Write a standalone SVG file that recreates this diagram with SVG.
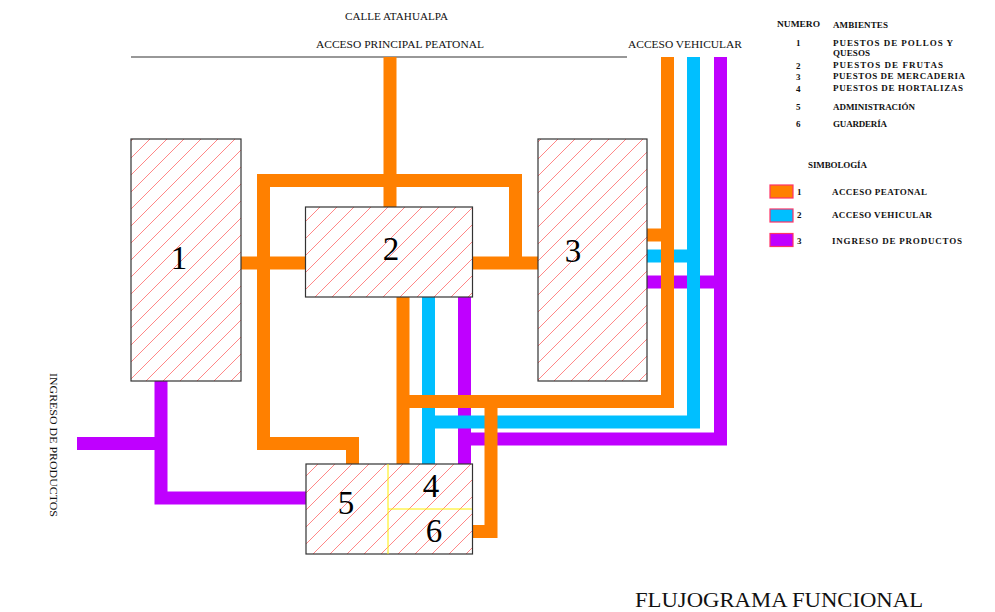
<svg xmlns="http://www.w3.org/2000/svg" width="995" height="612" viewBox="0 0 995 612">
<defs>
<pattern id="hatch" patternUnits="userSpaceOnUse" width="17" height="17">
<path d="M0,17 L17,0 M-4,4 L4,-4 M13,21 L21,13" stroke="#ff4d4d" stroke-width="0.8" stroke-opacity="0.85"/>
</pattern>
<style>
.box{fill:url(#hatch);stroke:#333;stroke-width:1.2}
.num{font-family:"Liberation Serif",serif;font-size:33px;fill:#000;text-anchor:middle}
.c{fill:none;stroke-width:13;stroke-linejoin:miter;stroke-linecap:butt}
.o{stroke:#ff8000}
.b{stroke:#00bfff}
.p{stroke:#bf00ff}
.t{font-family:"Liberation Serif",serif;font-size:10.5px;fill:#111}
.lg{font-family:"Liberation Serif",serif;font-size:9px;font-weight:bold;fill:#111}
.sw{stroke:#ff3366;stroke-width:1.2}
</style>
</defs>
<rect width="995" height="612" fill="#fff"/>
<line x1="131" y1="57" x2="627" y2="57" stroke="#333" stroke-width="1.2"/>
<text class="t" x="345" y="20" textLength="103" lengthAdjust="spacingAndGlyphs">CALLE ATAHUALPA</text>
<text class="t" x="316" y="48" textLength="168" lengthAdjust="spacingAndGlyphs">ACCESO PRINCIPAL PEATONAL</text>
<text class="t" x="628" y="48" textLength="114" lengthAdjust="spacingAndGlyphs">ACCESO VEHICULAR</text>
<text class="t" x="0" y="0" transform="translate(50,373) rotate(90)" textLength="144" lengthAdjust="spacingAndGlyphs">INGRESO DE PRODUCTOS</text>
<g id="connectors">
<path class="c o" d="M647,235 H667"/>
<path class="c b" d="M647,256 H693"/>
<path class="c p" d="M647,282 H720"/>
<path class="c o" d="M390,57 V207"/>
<path class="c o" d="M352.5,464 V443.5 H263.5 V180.5 H515.5 V263"/>
<path class="c o" d="M241,263 H305"/>
<path class="c o" d="M472,263 H538"/>
<path class="c p" d="M161,381 V498 H306"/>
<path class="c p" d="M77,443.5 H161"/>
<path class="c o" d="M403,297 V464"/>
<path class="c b" d="M428.5,297 V464"/>
<path class="c p" d="M464.5,297 V464"/>
<path class="c p" d="M720.5,57 V439 H458"/>
<path class="c b" d="M693.5,57 V422 H422"/>
<path class="c o" d="M667.5,57 V401.5 H397"/>
<path class="c o" d="M491,401.5 V531.5 H472"/>
</g>
<g id="node1">
<rect class="box" x="131" y="139" width="110" height="242"/>
<text class="num" x="179" y="269">1</text>
</g>
<g id="node2">
<rect class="box" x="305.5" y="207" width="167" height="90"/>
<text class="num" x="391" y="260">2</text>
</g>
<g id="node3">
<rect class="box" x="538" y="139" width="109" height="242"/>
<text class="num" x="573" y="262">3</text>
</g>
<g id="node456">
<rect class="box" x="306" y="464" width="166.5" height="90"/>
<line x1="388" y1="464" x2="388" y2="554" stroke="#ffee00" stroke-width="1"/>
<line x1="388" y1="509" x2="472" y2="509" stroke="#ffee00" stroke-width="1"/>
<text class="num" x="346" y="514">5</text>
<text class="num" x="431" y="497">4</text>
<text class="num" x="434" y="542">6</text>
</g>
<g id="legend">
<text class="lg" x="777" y="27" textLength="43" lengthAdjust="spacingAndGlyphs">NUMERO</text>
<text class="lg" x="833" y="28" textLength="55" lengthAdjust="spacing">AMBIENTES</text>
<text class="lg" x="796" y="46">1</text>
<text class="lg" x="833" y="46" textLength="120" lengthAdjust="spacing">PUESTOS DE POLLOS Y</text>
<text class="lg" x="833" y="56" textLength="37" lengthAdjust="spacing">QUESOS</text>
<text class="lg" x="796" y="68.5">2</text>
<text class="lg" x="833" y="67.5" textLength="110" lengthAdjust="spacing">PUESTOS DE FRUTAS</text>
<text class="lg" x="796" y="80">3</text>
<text class="lg" x="833" y="79" textLength="132" lengthAdjust="spacing">PUESTOS DE MERCADERIA</text>
<text class="lg" x="796" y="92">4</text>
<text class="lg" x="833" y="91" textLength="130" lengthAdjust="spacing">PUESTOS DE HORTALIZAS</text>
<text class="lg" x="796" y="110">5</text>
<text class="lg" x="833" y="110" textLength="82" lengthAdjust="spacing">ADMINISTRACIÓN</text>
<text class="lg" x="796" y="127">6</text>
<text class="lg" x="833" y="127" textLength="54" lengthAdjust="spacing">GUARDERÍA</text>
<text class="lg" x="808" y="168" textLength="59" lengthAdjust="spacing">SIMBOLOGÍA</text>
<rect class="sw" x="770" y="185" width="23" height="13" fill="#ff8000"/>
<text class="lg" x="797" y="195">1</text>
<text class="lg" x="832" y="195" textLength="95" lengthAdjust="spacing">ACCESO PEATONAL</text>
<rect class="sw" x="770" y="209" width="23" height="13" fill="#00bfff"/>
<text class="lg" x="797" y="218">2</text>
<text class="lg" x="832" y="218" textLength="100" lengthAdjust="spacing">ACCESO VEHICULAR</text>
<rect class="sw" x="770" y="233.5" width="23" height="13" fill="#bf00ff"/>
<text class="lg" x="797" y="244">3</text>
<text class="lg" x="832" y="244" textLength="130" lengthAdjust="spacing">INGRESO DE PRODUCTOS</text>
</g>
<text x="635" y="607" font-family="Liberation Serif, serif" font-size="20" fill="#111" textLength="288" lengthAdjust="spacingAndGlyphs">FLUJOGRAMA FUNCIONAL</text>
</svg>
